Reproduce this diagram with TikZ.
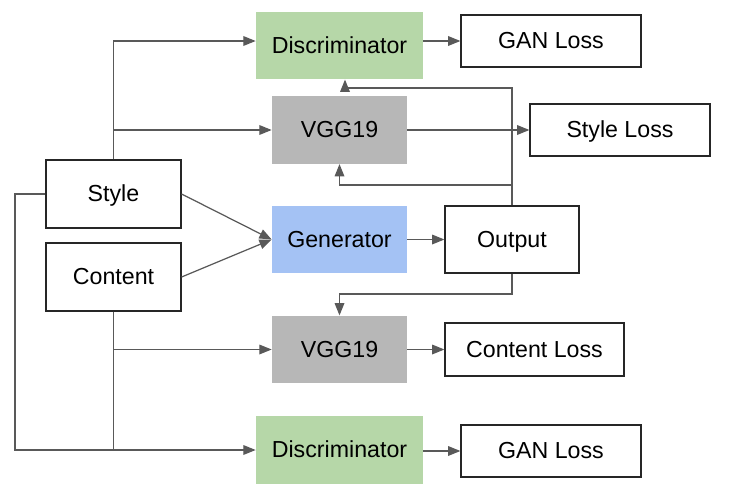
\documentclass[tikz,border=0pt]{standalone}
\usepackage{fontspec}
\setmainfont{Liberation Sans}
\usetikzlibrary{arrows.meta}
\definecolor{verde}{HTML}{B6D7A8}
\definecolor{grigio}{HTML}{B7B7B7}
\definecolor{blu}{HTML}{A4C2F4}
\definecolor{linea}{HTML}{595959}

\begin{document}
\begin{tikzpicture}[x=0.02cm,y=-0.02cm,font=\fontsize{13.2}{16}\selectfont,
    every node/.append style={text height=0.9em,text depth=0em},
    box/.style={draw=black!85,line width=0.7pt,inner sep=0pt},
    blocco/.style={inner sep=0pt,minimum width=2.7cm,minimum height=1.35cm},
    freccia/.style={draw=linea,line width=0.7pt,-{Triangle[length=7pt,width=5.5pt]}}]
    \useasboundingbox (0,0) rectangle (741,497); % margini

    % blocchi di rete
    \node[blocco,fill=verde,minimum width=3.34cm] (disc1) at (339.5,45.5) {Discriminator};
    \node[blocco,fill=grigio] (vgg1) at (339.5,130) {VGG19};
    \node[blocco,fill=blu] (gen) at (339.5,239.5) {Generator};
    \node[blocco,fill=grigio] (vgg2) at (339.5,349.5) {VGG19};
    \node[blocco,fill=verde,minimum width=3.34cm] (disc2) at (339.5,450) {Discriminator};

    % ingressi e uscite
    \node[box,minimum width=2.7cm,minimum height=1.36cm] (style) at (113.5,194) {Style};
    \node[box,minimum width=2.7cm,minimum height=1.36cm] (content) at (113.5,277) {Content};
    \node[box,minimum width=2.68cm,minimum height=1.34cm] (out) at (512,239.5) {Output};
    \node[box,minimum width=3.6cm,minimum height=1.04cm] (gan1) at (551,41) {GAN Loss};
    \node[box,minimum width=3.6cm,minimum height=1.04cm] (sloss) at (620,130) {Style Loss};
    \node[box,minimum width=3.58cm,minimum height=1.06cm] (closs) at (534.5,349.5) {Content Loss};
    \node[box,minimum width=3.6cm,minimum height=1.04cm] (gan2) at (551,451) {GAN Loss};

    % punti di piega
    \coordinate (giro) at (512,88); % sopra VGG19
    \coordinate (ramo) at (512,185); % sotto VGG19
    \coordinate (sotto) at (512,294); % sotto Output
    \coordinate (sinistra) at (15,194); % bordo sinistro

    % ramo dello stile
    \draw[freccia] (style.north) |- (disc1.west |- gan1.west);
    \draw[freccia] (style.north |- vgg1.west) -- (vgg1.west);
    \draw[freccia] (style.west) -- (sinistra) |- (disc2.west);
    \draw[freccia] (style.east) -- (gen.west);

    % ramo del contenuto
    \draw[freccia] (content.east) -- (gen.west);
    \draw[draw=linea,line width=0.7pt] (content.south) -- (content.south |- disc2.west);
    \draw[freccia] (content.south |- vgg2.west) -- (vgg2.west);

    % uscita del generatore
    \draw[freccia] (gen) -- (out);
    \draw[freccia] (out.north) -- (giro) -| ([xshift=0.11cm]disc1.south);
    \draw[freccia] (ramo) -| (vgg1.south);
    \draw[freccia] (out.south) -- (sotto) -| (vgg2.north);

    % perdite
    \draw[freccia] (disc1.east |- gan1.west) -- (gan1.west);
    \draw[freccia] (vgg1) -- (sloss);
    \draw[freccia] (vgg2) -- (closs);
    \draw[freccia] (disc2.east |- gan2.west) -- (gan2.west);
\end{tikzpicture}
\end{document}
